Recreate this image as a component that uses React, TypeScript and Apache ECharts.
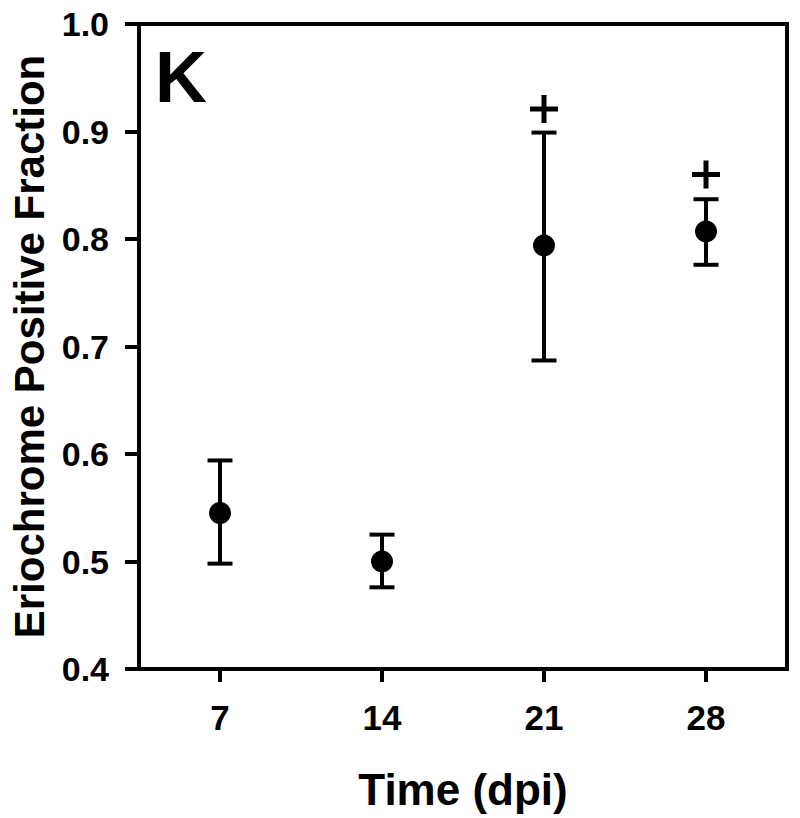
import React, { useEffect, useRef } from "react";
import * as echarts from "echarts";

const days = [7, 14, 21, 28];
const means = [0.545, 0.5, 0.794, 0.807];
const upper = [0.594, 0.525, 0.899, 0.837];
const lower = [0.498, 0.476, 0.687, 0.776];
const sigDays = [21, 28];
const sigValues = [0.921, 0.86];
const yTicks = [0.4, 0.5, 0.6, 0.7, 0.8, 0.9, 1.0];

const FONT = '"Liberation Sans", Arial, Helvetica, sans-serif';

export default function App() {
  const ref = useRef<HTMLDivElement>(null);
  useEffect(() => {
    document.body.style.margin = "0";
    if (!ref.current) return;
    const chart = echarts.init(ref.current, undefined, { renderer: "svg" });
    const option: any = {
      animation: false,
      backgroundColor: "#fff",
      grid: {
        left: 139,
        top: 24,
        width: 648,
        height: 645,
        show: true,
        borderColor: "#000",
        borderWidth: 4,
        backgroundColor: "transparent",
      },
      xAxis: {
        type: "value",
        min: 3.5,
        max: 31.5,
        name: "Time (dpi)",
        nameLocation: "middle",
        nameGap: 98,
        nameTextStyle: { fontFamily: FONT, fontWeight: "bold", fontSize: 44, color: "#000" },
        axisLine: { show: true, lineStyle: { color: "#000", width: 4 } },
        axisTick: { show: true, inside: false, length: 13, lineStyle: { color: "#000", width: 4 }, customValues: days },
        axisLabel: {
          customValues: days,
          margin: 31,
          fontFamily: FONT,
          fontWeight: "bold",
          fontSize: 35,
          color: "#000",
        },
        splitLine: { show: false },
      },
      yAxis: {
        type: "value",
        min: 0.4,
        max: 1.0,
        interval: 0.1,
        name: "Eriochrome Positive Fraction",
        nameLocation: "middle",
        nameGap: 87,
        nameTextStyle: { fontFamily: FONT, fontWeight: "bold", fontSize: 42, color: "#000" },
        axisLine: { show: true, lineStyle: { color: "#000", width: 4 } },
        axisTick: { show: true, inside: false, length: 14, lineStyle: { color: "#000", width: 4 } },
        axisLabel: {
          margin: 30,
          fontFamily: FONT,
          fontWeight: "bold",
          fontSize: 34,
          color: "#000",
          formatter: (v: number) => {
            const t = yTicks.find((x) => Math.abs(x - v) < 1e-6);
            return (t !== undefined ? t : v).toFixed(1);
          },
        },
        splitLine: { show: false },
      },
      graphic: [
        {
          type: "text",
          left: 155,
          top: 41,
          style: {
            text: "K",
            font: `bold 72px ${FONT}`,
            fill: "#000",
          },
        },
      ],
      series: [
        {
          type: "custom",
          name: "err",
          data: days.map((d, i) => [d, lower[i], upper[i]]),
          encode: { x: 0, y: [1, 2] },
          renderItem: (params: any, api: any) => {
            const x = api.value(0);
            const lo = api.coord([x, api.value(1)]);
            const hi = api.coord([x, api.value(2)]);
            const half = 12.5;
            const style = { stroke: "#000", lineWidth: 4 };
            return {
              type: "group",
              children: [
                { type: "line", shape: { x1: lo[0], y1: lo[1], x2: hi[0], y2: hi[1] }, style },
                { type: "line", shape: { x1: lo[0] - half, y1: lo[1], x2: lo[0] + half, y2: lo[1] }, style },
                { type: "line", shape: { x1: hi[0] - half, y1: hi[1], x2: hi[0] + half, y2: hi[1] }, style },
              ],
            };
          },
          z: 2,
        },
        {
          type: "scatter",
          name: "mean",
          data: days.map((d, i) => [d, means[i]]),
          symbol: "circle",
          symbolSize: 22,
          itemStyle: { color: "#000", opacity: 1 },
          z: 3,
        },
        {
          type: "scatter",
          name: "sig",
          data: sigDays.map((d, i) => [d, sigValues[i]]),
          symbol: "path://M11.5,0h5v11.5h11.5v5h-11.5v11.5h-5v-11.5h-11.5v-5h11.5z",
          symbolSize: [28, 28],
          itemStyle: { color: "#000", opacity: 1 },
          z: 3,
        },
      ],
    };
    chart.setOption(option);
    return () => chart.dispose();
  }, []);
  return <div ref={ref} style={{ width: 800, height: 818 }} />;
}
